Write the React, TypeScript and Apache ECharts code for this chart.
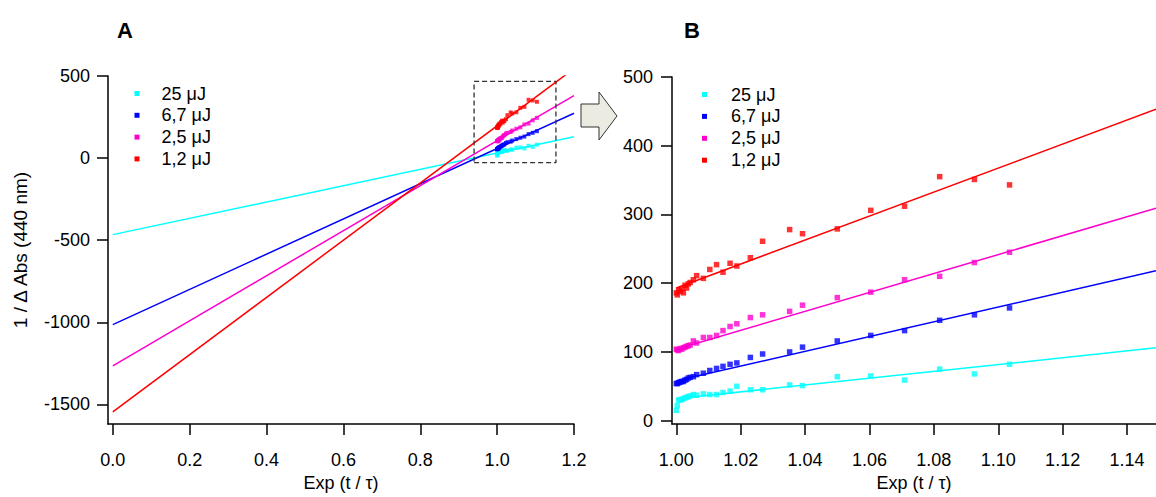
import React, { useEffect, useRef } from "react";
import * as echarts from "echarts";

const FONT = "'Liberation Sans', Arial, sans-serif";

const seriesNames = ["25 μJ", "6,7 μJ", "2,5 μJ", "1,2 μJ"];
const seriesColors = ["#00ffff", "#0000ff", "#ff00cc", "#ff0000"];

// shared x values of measured points (Exp(t/τ))
const xData = [
  1.0, 1.0003, 1.0007, 1.0012, 1.0017, 1.0022, 1.0027, 1.0032, 1.0037, 1.0043,
  1.0053, 1.0063, 1.0084, 1.0104, 1.0125, 1.0145, 1.0167, 1.0188, 1.023, 1.0268,
  1.0352, 1.0392, 1.05, 1.0604, 1.0709, 1.0818, 1.0926, 1.1035,
];
const cyanData = [
  15, 22, 30, 30, 31, 32, 33, 34, 35, 36, 38, 37, 39, 38, 38, 41, 43, 50, 45, 45,
  52, 51, 64, 65, 59, 75, 68, 82,
];
const blueData = [
  54, 54, 55, 56, 57, 57, 59, 60, 62, 63, 64, 67, 69, 73, 76, 79, 82, 84, 92, 97,
  100, 107, 116, 124, 131, 146, 154, 164,
];
const magentaData = [
  104, 103, 102, 105, 104, 106, 107, 108, 109, 110, 116, 113, 121, 121, 124, 131, 137, 141, 150, 154,
  159, 168, 179, 187, 205, 210, 230, 245,
];
const redData = [
  186, 183, 190, 188, 192, 186, 197, 193, 199, 201, 205, 211, 207, 220, 227, 216, 229, 225, 237, 261,
  278, 272, 279, 306, 312, 355, 351, 343,
];
const pointSets = [cyanData, blueData, magentaData, redData];

// fitted lines, panel A (end points at x = 0 and x = 1.2)
const fitAX = [0, 1.2];
const fitACyan = [-466, 130];
const fitABlue = [-1014, 273];
const fitAMagenta = [-1265, 381];
const fitARed = [-1545, 545];
const fitsA = [fitACyan, fitABlue, fitAMagenta, fitARed];

// fitted lines, panel B (end points at x = 1.0 and x = 1.149)
const fitBX = [1.0, 1.149];
const fitBCyan = [32, 106];
const fitBBlue = [58, 218];
const fitBMagenta = [104, 309];
const fitBRed = [193, 453];
const fitsB = [fitBCyan, fitBBlue, fitBMagenta, fitBRed];

// zoom box drawn in panel A
const zoomBoxX = [0.94, 1.153];
const zoomBoxY = [-28, 467];

// ticks
const xTicksA = [0, 0.2, 0.4, 0.6, 0.8, 1.0, 1.2];
const yTicksA = [-1500, -1000, -500, 0, 500];
const xTicksB = [1.0, 1.02, 1.04, 1.06, 1.08, 1.1, 1.12, 1.14];
const yTicksB = [0, 100, 200, 300, 400, 500];

function axisStyle(ticks: number[], fmt: (v: number) => string, margin: number) {
  return {
    axisLine: { show: true, onZero: false, lineStyle: { color: "#000", width: 1.5 } },
    axisTick: {
      show: true,
      length: 11,
      inside: false,
      customValues: ticks,
      lineStyle: { color: "#000", width: 1.5 },
    },
    axisLabel: {
      customValues: ticks,
      formatter: (v: number) => fmt(Number(v)),
      margin,
      color: "#000",
      fontSize: 18,
      fontFamily: FONT,
    },
    splitLine: { show: false },
  };
}

export default function App() {
  const ref = useRef<HTMLDivElement>(null);

  useEffect(() => {
    if (!ref.current) return;
    const chart = echarts.init(ref.current, null, { renderer: "svg" });

    const series: any[] = [];
    // Panel A
    seriesNames.forEach((name, i) => {
      series.push({
        name,
        type: "line",
        xAxisIndex: 0,
        yAxisIndex: 0,
        symbol: "none",
        clip: true,
        data: fitAX.map((x, k) => [x, fitsA[i][k]]),
        lineStyle: { color: seriesColors[i], width: 1.5 },
        silent: true,
      });
      series.push({
        name,
        type: "scatter",
        xAxisIndex: 0,
        yAxisIndex: 0,
        symbol: "rect",
        symbolSize: 4,
        data: xData.map((x, k) => [x, pointSets[i][k]]),
        itemStyle: { color: seriesColors[i] },
      });
    });
    series.push({
      type: "line",
      xAxisIndex: 0,
      yAxisIndex: 0,
      symbol: "none",
      clip: false,
      data: [
        [zoomBoxX[0], zoomBoxY[0]],
        [zoomBoxX[1], zoomBoxY[0]],
        [zoomBoxX[1], zoomBoxY[1]],
        [zoomBoxX[0], zoomBoxY[1]],
        [zoomBoxX[0], zoomBoxY[0]],
      ],
      lineStyle: { color: "#333", width: 1.3, type: [5, 3] },
      silent: true,
    });
    // Panel B
    seriesNames.forEach((name, i) => {
      series.push({
        name,
        type: "line",
        xAxisIndex: 1,
        yAxisIndex: 1,
        symbol: "none",
        clip: true,
        data: fitBX.map((x, k) => [x, fitsB[i][k]]),
        lineStyle: { color: seriesColors[i], width: 1.5 },
        silent: true,
      });
      series.push({
        name,
        type: "scatter",
        xAxisIndex: 1,
        yAxisIndex: 1,
        symbol: "rect",
        symbolSize: 5.5,
        data: xData.map((x, k) => [x, pointSets[i][k]]),
        itemStyle: { color: seriesColors[i] },
      });
    });

    const legendA: any[] = [];
    const legendB: any[] = [];
    seriesNames.forEach((name, i) => {
      const yA = 93.5 + 21.8 * i;
      const yB = 94.5 + 21.9 * i;
      legendA.push({
        type: "rect",
        shape: { x: 134.5, y: yA - 2.5, width: 5, height: 5 },
        style: { fill: seriesColors[i] },
      });
      legendA.push({
        type: "text",
        x: 161.5,
        y: yA,
        style: { text: name, font: `18px ${FONT}`, fill: "#000", verticalAlign: "middle" },
      });
      legendB.push({
        type: "rect",
        shape: { x: 702, y: yB - 2.5, width: 5, height: 5 },
        style: { fill: seriesColors[i] },
      });
      legendB.push({
        type: "text",
        x: 731,
        y: yB,
        style: { text: name, font: `18px ${FONT}`, fill: "#000", verticalAlign: "middle" },
      });
    });

    chart.setOption({
      animation: false,
      backgroundColor: "#fff",
      textStyle: { fontFamily: FONT },
      grid: [
        { left: 108, top: 76, width: 466, height: 352, containLabel: false },
        { left: 672, top: 77, width: 484, height: 352, containLabel: false },
      ],
      xAxis: [
        {
          type: "value",
          gridIndex: 0,
          min: -0.0125,
          max: 1.2,
          name: "Exp (t / τ)",
          nameLocation: "middle",
          nameGap: 47,
          nameTextStyle: { color: "#000", fontSize: 18, fontFamily: FONT },
          ...axisStyle(xTicksA, (v) => v.toFixed(1), 27),
        },
        {
          type: "value",
          gridIndex: 1,
          min: 0.99866,
          max: 1.149,
          name: "Exp (t / τ)",
          nameLocation: "middle",
          nameGap: 47,
          nameTextStyle: { color: "#000", fontSize: 18, fontFamily: FONT },
          ...axisStyle(xTicksB, (v) => v.toFixed(2), 27),
        },
      ],
      yAxis: [
        {
          type: "value",
          gridIndex: 0,
          min: -1620,
          max: 500,
          name: "1 / Δ Abs (440 nm)",
          nameLocation: "middle",
          nameRotate: 90,
          nameGap: 78,
          nameTextStyle: { color: "#000", fontSize: 19, fontFamily: FONT },
          ...axisStyle(yTicksA, (v) => String(Math.round(v)), 18),
        },
        {
          type: "value",
          gridIndex: 1,
          min: -5,
          max: 500,
          ...axisStyle(yTicksB, (v) => String(Math.round(v)), 19),
        },
      ],
      graphic: [
        {
          type: "text",
          x: 117,
          y: 30,
          style: { text: "A", font: `bold 22px ${FONT}`, fill: "#000", verticalAlign: "middle" },
        },
        {
          type: "text",
          x: 684,
          y: 30,
          style: { text: "B", font: `bold 22px ${FONT}`, fill: "#000", verticalAlign: "middle" },
        },
        {
          type: "polygon",
          shape: {
            points: [
              [581, 104],
              [599, 104],
              [599, 92],
              [617, 116],
              [599, 140],
              [599, 127],
              [581, 127],
            ],
          },
          style: { fill: "#ecebe1", stroke: "#333", lineWidth: 1 },
        },
        ...legendA,
        ...legendB,
      ],
      series,
    });

    return () => chart.dispose();
  }, []);

  return (
    <div
      ref={ref}
      style={{ position: "fixed", left: 0, top: 0, width: 1156, height: 497, background: "#fff" }}
    />
  );
}
